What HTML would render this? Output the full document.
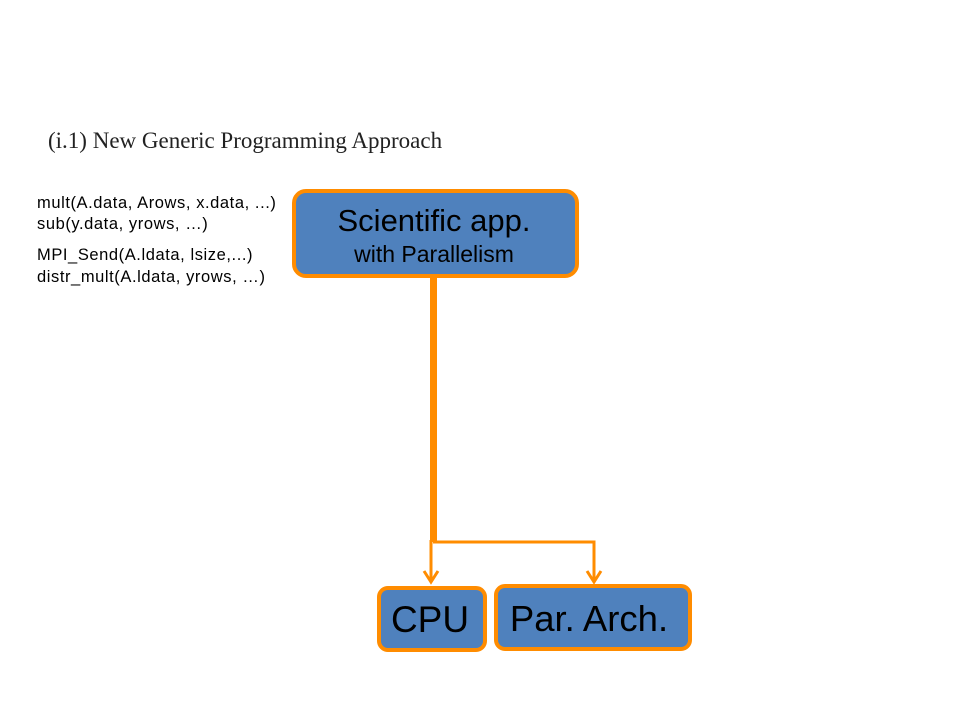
<!DOCTYPE html>
<html><head><style>
body{margin:0;width:960px;height:720px;background:#fff;overflow:hidden;position:relative;font-family:"Liberation Sans",sans-serif}
.t{position:absolute;white-space:nowrap;color:#000}
</style></head><body>
<div class="t" style="left:48px;top:128px;font-family:'Liberation Serif',serif;font-size:23px;color:#222">(i.1) New Generic Programming Approach</div>
<div class="t" style="left:37px;top:192px;font-size:17px;line-height:21px;letter-spacing:0.6px;transform:scaleX(0.97);transform-origin:left">mult(A.data, Arows, x.data, ...)<br>sub(y.data, yrows, …)</div>
<div class="t" style="left:37px;top:244px;font-size:17px;line-height:22px;letter-spacing:0.6px;transform:scaleX(0.97);transform-origin:left">MPI_Send(A.ldata, lsize,...)<br>distr_mult(A.ldata, yrows, …)</div>
<svg width="960" height="720" style="position:absolute;left:0;top:0">
<g fill="none" stroke="#FF8C00" stroke-linejoin="miter">
<line x1="433.5" y1="278" x2="433.5" y2="542" stroke-width="7"/>
<polyline points="431,540 431,582" stroke-width="3"/>
<polyline points="433,542 594,542 594,582" stroke-width="3"/>
<polyline points="424,571 431,582 438,571" stroke-width="3"/>
<polyline points="587,571 594,582 601,571" stroke-width="3"/>
</g>
<g fill="#4F81BD" stroke="#FF8C00" stroke-width="4">
<rect x="294" y="191" width="283" height="85" rx="12"/>
<rect x="379" y="588" width="106" height="62" rx="9"/>
<rect x="496" y="586" width="194" height="63" rx="9"/>
</g>
<g font-family="Liberation Sans, sans-serif" fill="#000" text-anchor="middle">
<text x="434" y="231" font-size="31">Scientific app.</text>
<text x="434" y="262" font-size="23">with Parallelism</text>
<text x="430" y="632" font-size="37">CPU</text>
<text x="589" y="631" font-size="36.5">Par. Arch.</text>
</g>
</svg>
</body></html>
